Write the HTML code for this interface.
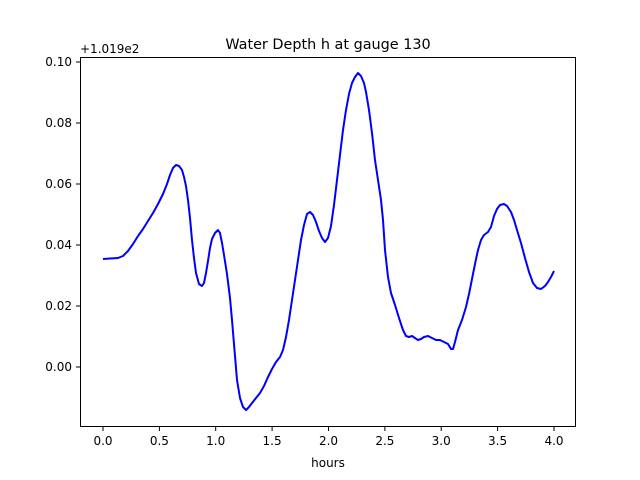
<!DOCTYPE html>
<html><head><meta charset="utf-8"><style>
body{margin:0;background:#fff;}
svg{display:block;font-family:"DejaVu Sans","Liberation Sans",sans-serif;}
</style></head><body>
<svg width="640" height="480" xmlns="http://www.w3.org/2000/svg">
<rect width="640" height="480" fill="#fff"/>
<polyline fill="none" stroke="#0000ff" stroke-width="2" stroke-linejoin="round" points="103,259 110,258.5 118,258 123,256 128,251 133,244 138,236 143,229 148,221 153,213 158,204 163,194 167,184 170,175 173,168 176,165 179,166 182,170 184,177 186,186 188,200 190,218 192,240 194,258 196,273 199,284 202,286 204,283 206,273 208,261 210,248 212,239 215,233 218,230 220,233 222,243 224,255 227,274 230,298 232,320 235,356 237,380 240,398 243,407 246,410 249,407 252,403 256,398 260,393 264,386 268,377 272,369 276,362 280,357 283,350 286,337 289,320 292,300 295,280 298,260 301,240 304,225 307,214 310,212 313,215 316,222 319,231 322,238 325,242 328,238 331,226 334,205 337,180 340,155 343,130 346,110 349,94 352,83 355,77 358,73 361,76 364,83 366,92 369,110 372,133 375,160 378,180 381,200 383,220 385,250 388,277 391,293 395,305 399,318 403,330 406,336 409,337 412,336 415,338 418,340 421,339 424,337 428,336 432,338 436,340 440,340 444,342 448,344 451,349 453,349 455,342 458,330 462,320 466,307 469,294 472,279 475,264 478,250 481,240 484,235 488,232 491,227 494,216 497,209 500,205 504,204 507,206 511,212 514,220 517,230 521,243 525,258 529,272 533,283 537,288 541,289 545,286 548,282 551,277 554,271"/>
<rect x="80.5" y="57.5" width="495" height="369" fill="none" stroke="#000" stroke-width="1"/>
<g stroke="#000" stroke-width="1">
<line x1="103" y1="427" x2="103" y2="431"/><line x1="159.4" y1="427" x2="159.4" y2="431"/><line x1="215.7" y1="427" x2="215.7" y2="431"/><line x1="272.1" y1="427" x2="272.1" y2="431"/><line x1="328.5" y1="427" x2="328.5" y2="431"/><line x1="384.9" y1="427" x2="384.9" y2="431"/><line x1="441.2" y1="427" x2="441.2" y2="431"/><line x1="497.6" y1="427" x2="497.6" y2="431"/><line x1="554" y1="427" x2="554" y2="431"/>
<line x1="76" y1="367" x2="80" y2="367"/><line x1="76" y1="306" x2="80" y2="306"/><line x1="76" y1="245" x2="80" y2="245"/><line x1="76" y1="184" x2="80" y2="184"/><line x1="76" y1="123" x2="80" y2="123"/><line x1="76" y1="62" x2="80" y2="62"/>
</g>
<g font-size="12" fill="#000" text-anchor="middle">
<text x="103" y="445">0.0</text><text x="159.4" y="445">0.5</text><text x="215.7" y="445">1.0</text><text x="272.1" y="445">1.5</text><text x="328.5" y="445">2.0</text><text x="384.9" y="445">2.5</text><text x="441.2" y="445">3.0</text><text x="497.6" y="445">3.5</text><text x="554" y="445">4.0</text>
<text x="328" y="467">hours</text>
</g>
<g font-size="12" fill="#000" text-anchor="end">
<text x="72" y="371">0.00</text><text x="72" y="310">0.02</text><text x="72" y="249">0.04</text><text x="72" y="188">0.06</text><text x="72" y="127">0.08</text><text x="72" y="66">0.10</text>
</g>
<text x="80" y="53" font-size="12">+1.019e2</text>
<text x="328" y="49" font-size="14.4" text-anchor="middle">Water Depth h at gauge 130</text>
</svg>
</body></html>
